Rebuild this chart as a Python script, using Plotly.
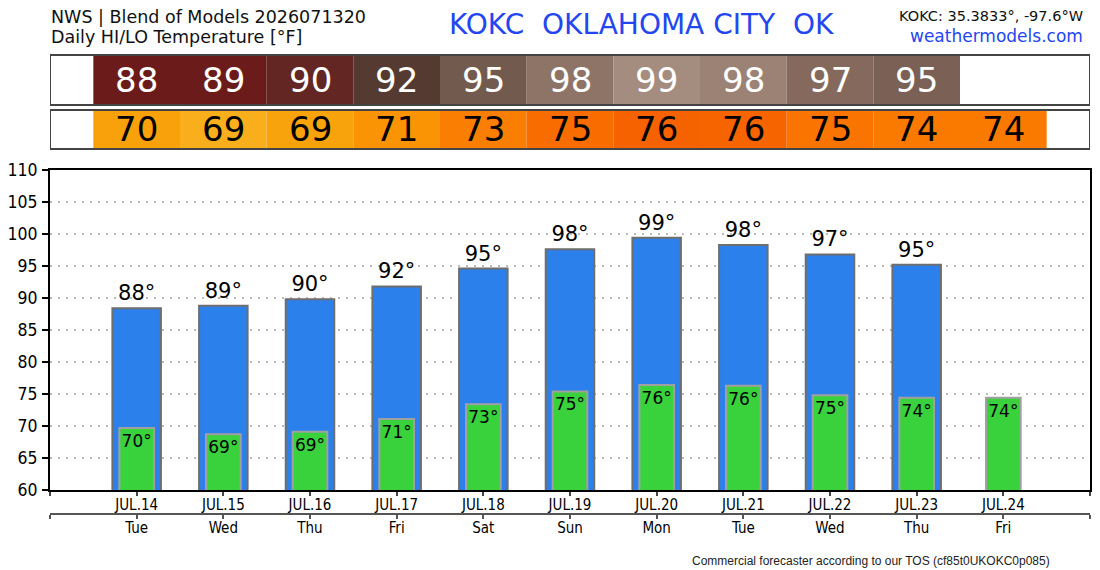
import plotly.graph_objects as go

# data
dates = ["JUL.14", "JUL.15", "JUL.16", "JUL.17", "JUL.18", "JUL.19",
         "JUL.20", "JUL.21", "JUL.22", "JUL.23", "JUL.24"]
weekdays = ["Tue", "Wed", "Thu", "Fri", "Sat", "Sun",
            "Mon", "Tue", "Wed", "Thu", "Fri"]
hi_temps = [88.4, 88.8, 89.8, 91.8, 94.6, 97.6, 99.4, 98.3, 96.8, 95.2]
lo_temps = [69.7, 68.7, 69.1, 71.1, 73.4, 75.4, 76.4, 76.3, 74.8, 74.4, 74.4]

hi_colors = ["#6b1c1a", "#6b1c1a", "#632622", "#553a31", "#735a4e", "#8e7466",
             "#a48c7f", "#9b8274", "#86695d", "#7b6155"]
lo_colors = ["#f8a10b", "#f9ae1b", "#f9a30c", "#fa9404", "#fa7e02", "#f86c00",
             "#f66200", "#f66400", "#f97400", "#fa7a00", "#fa7a00"]

# the page puts the figure 8px in from the top-left corner
OFF = 8
W, H = 1100 - OFF, 570 - OFF
PLOT_TOP, PLOT_BOTTOM, AXIS2_Y = 170 - OFF, 490 - OFF, 514 - OFF
LEFT, RIGHT = 50 - OFF, 1090 - OFF


def py(ypx):
    # screen row -> paper y
    return (AXIS2_Y - (ypx - OFF)) / (AXIS2_Y - PLOT_TOP)


def px(xpx):
    return (xpx - OFF - LEFT) / (RIGHT - LEFT)


idx = list(range(len(dates)))
tick_pos = [-1] + idx + [len(dates)]

fig = go.Figure()

fig.add_trace(go.Bar(
    x=idx[:len(hi_temps)], y=hi_temps, width=0.56,
    marker=dict(color="#2b80ec", line=dict(color="#6e6e6e", width=2)),
    text=[f"{round(v)}°" for v in hi_temps], textposition="outside",
    textfont=dict(size=21, color="black", family="DejaVu Sans"),
    cliponaxis=False, hoverinfo="skip", showlegend=False,
))
fig.add_trace(go.Bar(
    x=idx, y=lo_temps, width=0.4,
    marker=dict(color="#39d23c", line=dict(color="#a0a0a0", width=2)),
    text=[f"{round(v)}°" for v in lo_temps], textposition="inside",
    insidetextanchor="end", textangle=0, constraintext="none",
    textfont=dict(size=17, color="black", family="DejaVu Sans"),
    hoverinfo="skip", showlegend=False,
))
# carrier for the weekday axis
fig.add_trace(go.Scatter(x=idx, y=[None] * len(idx), xaxis="x2",
                         hoverinfo="skip", showlegend=False))

# HI / LO boxes above the chart
shapes = []
annotations = []
rows = [(hi_temps, hi_colors, 55, 105, "white"), (lo_temps, lo_colors, 110, 149, "black")]
for vals, colors, top, bottom, txt_color in rows:
    for i, v in enumerate(vals):
        shapes.append(dict(type="rect", xref="x", yref="paper",
                           x0=i - 0.5, x1=i + 0.5, y0=py(bottom), y1=py(top),
                           fillcolor=colors[i], line=dict(width=0), layer="above"))
        annotations.append(dict(xref="x", yref="paper", x=i, y=py((top + bottom) / 2),
                                yanchor="middle", text=str(round(v)), showarrow=False,
                                font=dict(size=34, color=txt_color, family="DejaVu Sans")))
    shapes.append(dict(type="rect", xref="x", yref="paper",
                       x0=-1, x1=len(dates), y0=py(bottom), y1=py(top),
                       line=dict(color="#444444", width=2), layer="above"))

header_font = "DejaVu Sans"
annotations += [
    dict(xref="paper", yref="paper", x=px(49), y=py(17), xanchor="left", yanchor="middle",
         text="NWS | Blend of Models 2026071320", showarrow=False,
         font=dict(size=17.5, color="#111", family=header_font)),
    dict(xref="paper", yref="paper", x=px(49), y=py(37), xanchor="left", yanchor="middle",
         text="Daily HI/LO Temperature [°F]", showarrow=False,
         font=dict(size=17.5, color="#111", family=header_font)),
    dict(xref="paper", yref="paper", x=px(641.5), y=py(25), xanchor="center", yanchor="middle",
         text="KOKC\u00a0\u00a0OKLAHOMA CITY\u00a0\u00a0OK", showarrow=False,
         font=dict(size=28, color="#2446f0", family=header_font)),
    dict(xref="paper", yref="paper", x=px(1085), y=py(16), xanchor="right", yanchor="middle",
         text="KOKC: 35.3833°, -97.6°W", showarrow=False,
         font=dict(size=14.5, color="#111", family=header_font)),
    dict(xref="paper", yref="paper", x=px(1085), y=py(36), xanchor="right", yanchor="middle",
         text="weathermodels.com", showarrow=False,
         font=dict(size=17, color="#2446f0", family=header_font)),
    dict(xref="paper", yref="paper", x=px(1052), y=py(561), xanchor="right", yanchor="middle",
         text="Commercial forecaster according to our TOS (cf85t0UKOKC0p085)", showarrow=False,
         font=dict(size=12, color="#222", family="Liberation Sans")),
]

tick_font = dict(family="DejaVu Sans Condensed", size=15, color="black")

fig.update_layout(
    width=W, height=H,
    margin=dict(l=LEFT, r=W - RIGHT, t=PLOT_TOP, b=H - AXIS2_Y, pad=0),
    paper_bgcolor="white", plot_bgcolor="white",
    barmode="overlay",
    shapes=shapes, annotations=annotations,
    xaxis=dict(range=[-1, len(dates)], tickvals=tick_pos, ticktext=[""] + dates + [""],
               showgrid=False, zeroline=False, showline=True, linecolor="black",
               linewidth=2, mirror=True, ticks="outside", ticklen=4, tickwidth=2,
               tickcolor="#444", tickfont=tick_font, ticklabelstandoff=-4,
               automargin=False),
    xaxis2=dict(overlaying="x", anchor="free", position=0, side="bottom",
                range=[-1, len(dates)], tickvals=tick_pos, ticktext=[""] + weekdays + [""],
                showgrid=False, zeroline=False, showline=True, linecolor="#555",
                linewidth=2, ticks="outside", ticklen=4, tickwidth=2, tickcolor="#555",
                tickfont=tick_font, ticklabelstandoff=-4, automargin=False),
    yaxis=dict(domain=[(AXIS2_Y - PLOT_BOTTOM) / (AXIS2_Y - PLOT_TOP), 1],
               range=[60, 110], dtick=5, showgrid=True, gridcolor="#bbbbbb",
               griddash="2px,6px", gridwidth=1.5, zeroline=False, showline=True,
               linecolor="black", linewidth=2, mirror=True, ticks="outside",
               ticklen=6, tickwidth=2, tickcolor="black", automargin=False,
               ticklabelstandoff=1,
               tickfont=dict(family="DejaVu Sans Condensed", size=17.5, color="black")),
)

fig.write_html("out.html")
